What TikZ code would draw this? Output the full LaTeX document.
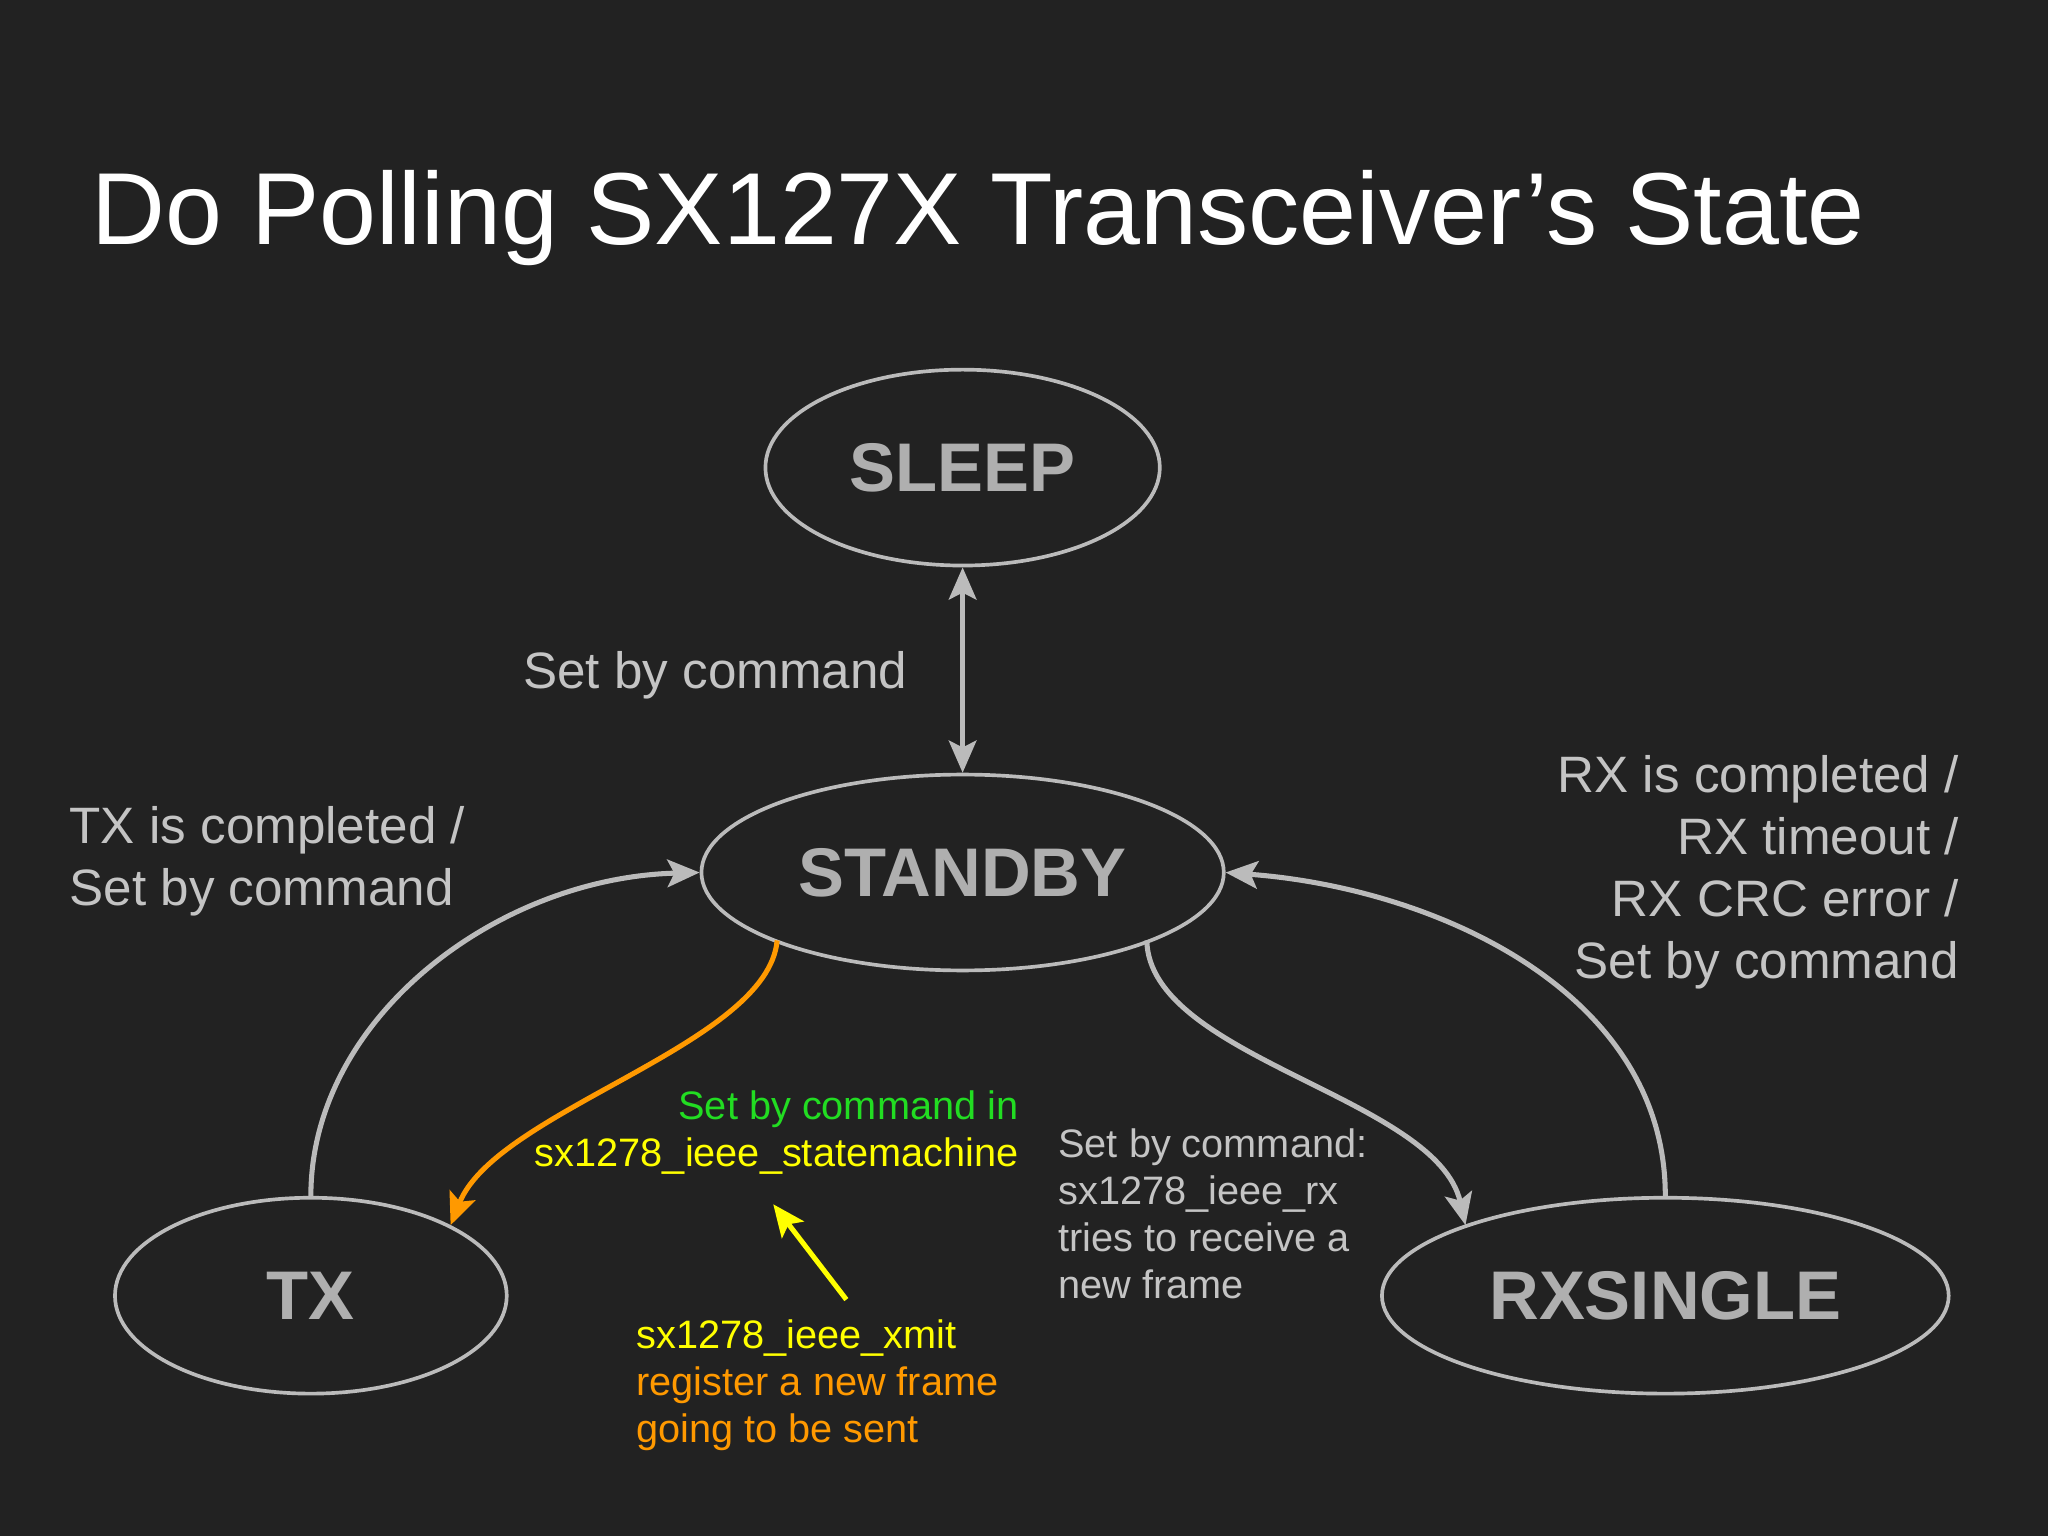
\documentclass[tikz,border=0pt]{standalone}
\usepackage{fontspec}
\setmainfont{Liberation Sans}
\usetikzlibrary{shapes.geometric,arrows.meta}
\definecolor{bg}{HTML}{222222}
\definecolor{ln}{HTML}{BBBBBB}
\definecolor{st}{HTML}{AFAFAF}
\definecolor{lb}{HTML}{C4C4C4}
\definecolor{gr}{HTML}{22DD22}
\definecolor{ye}{HTML}{FFFF00}
\definecolor{orr}{HTML}{FF9900}
\tikzset{
 state/.style={ellipse,draw=ln,line width=1.6pt,text=st,font=\fontsize{30}{30}\selectfont\bfseries,inner sep=0pt},
 conn/.style={line width=2.2pt,draw=ln,-{Stealth[length=14pt,width=12pt,inset=3pt]}},
 big/.style={font=\fontsize{22.3}{27}\selectfont,text=lb,inner sep=0pt},
 small/.style={font=\fontsize{17.3}{20.5}\selectfont,inner sep=0pt}
}
\begin{document}
\begin{tikzpicture}[x=0.02cm,y=-0.02cm]
\fill[bg] (0,0) rectangle (1568,1176);
\useasboundingbox (0,0) rectangle (1568,1176);
\node[anchor=west,text=white,font=\fontsize{44.6}{44.6}\selectfont,inner sep=0pt] (title) at (70,167) {Do Polling SX127X Transceiver’s State};
\node[state,minimum width=6.04cm,minimum height=3cm] (sleep) at (737,358) {SLEEP};
\node[state,minimum width=8cm,minimum height=3cm] (stby) at (737,668) {STANDBY};
\node[state,minimum width=6cm,minimum height=3cm] (tx) at (238,992) {TX};
\node[state,minimum width=8.68cm,minimum height=3cm] (rx) at (1275,992) {RXSINGLE};
\draw[conn,{Stealth[length=14pt,width=12pt,inset=3pt]}-{Stealth[length=14pt,width=12pt,inset=3pt]}] (sleep.south) -- (stby.north);
\draw[conn] (tx.north) .. controls (238,780) and (380,672) .. (stby.west);
\draw[conn] (rx.north) .. controls (1275,760) and (1100,680) .. (stby.east);
\coordinate (os) at (595,720);
\coordinate (oe) at (345,938);
\draw[conn,draw=orr] (os) .. controls (588,800) and (380,850) .. (oe);
\coordinate (gs) at (878,720);
\coordinate (ge) at (1122,938);
\draw[conn] (gs) .. controls (880,810) and (1100,840) .. (ge);
\coordinate (ys) at (648,995);
\coordinate (ye2) at (592,922);
\draw[conn,draw=ye] (ys) -- (ye2);
\node[big,anchor=east] (l1) at (695,517) {Set by command};
\node[big,anchor=north west,align=left] (l2) at (53,617) {TX is completed /\\Set by command};
\node[big,anchor=north east,align=right] (l3) at (1500,578) {RX is completed /\\RX timeout /\\RX CRC error /\\Set by command};
\node[small,anchor=north east,align=right] (l4) at (780,835) {\textcolor{gr}{Set by command in}\\\textcolor{ye}{sx1278\_ieee\_statemachine}};
\node[small,anchor=north west,align=left,text=lb] (l5) at (810,864) {Set by command:\\sx1278\_ieee\_rx\\tries to receive a\\new frame};
\node[small,anchor=north west,align=left,text=orr] (l6) at (487,1010) {\textcolor{ye}{sx1278\_ieee\_xmit}\\register a new frame\\going to be sent};
\end{tikzpicture}
\end{document}
